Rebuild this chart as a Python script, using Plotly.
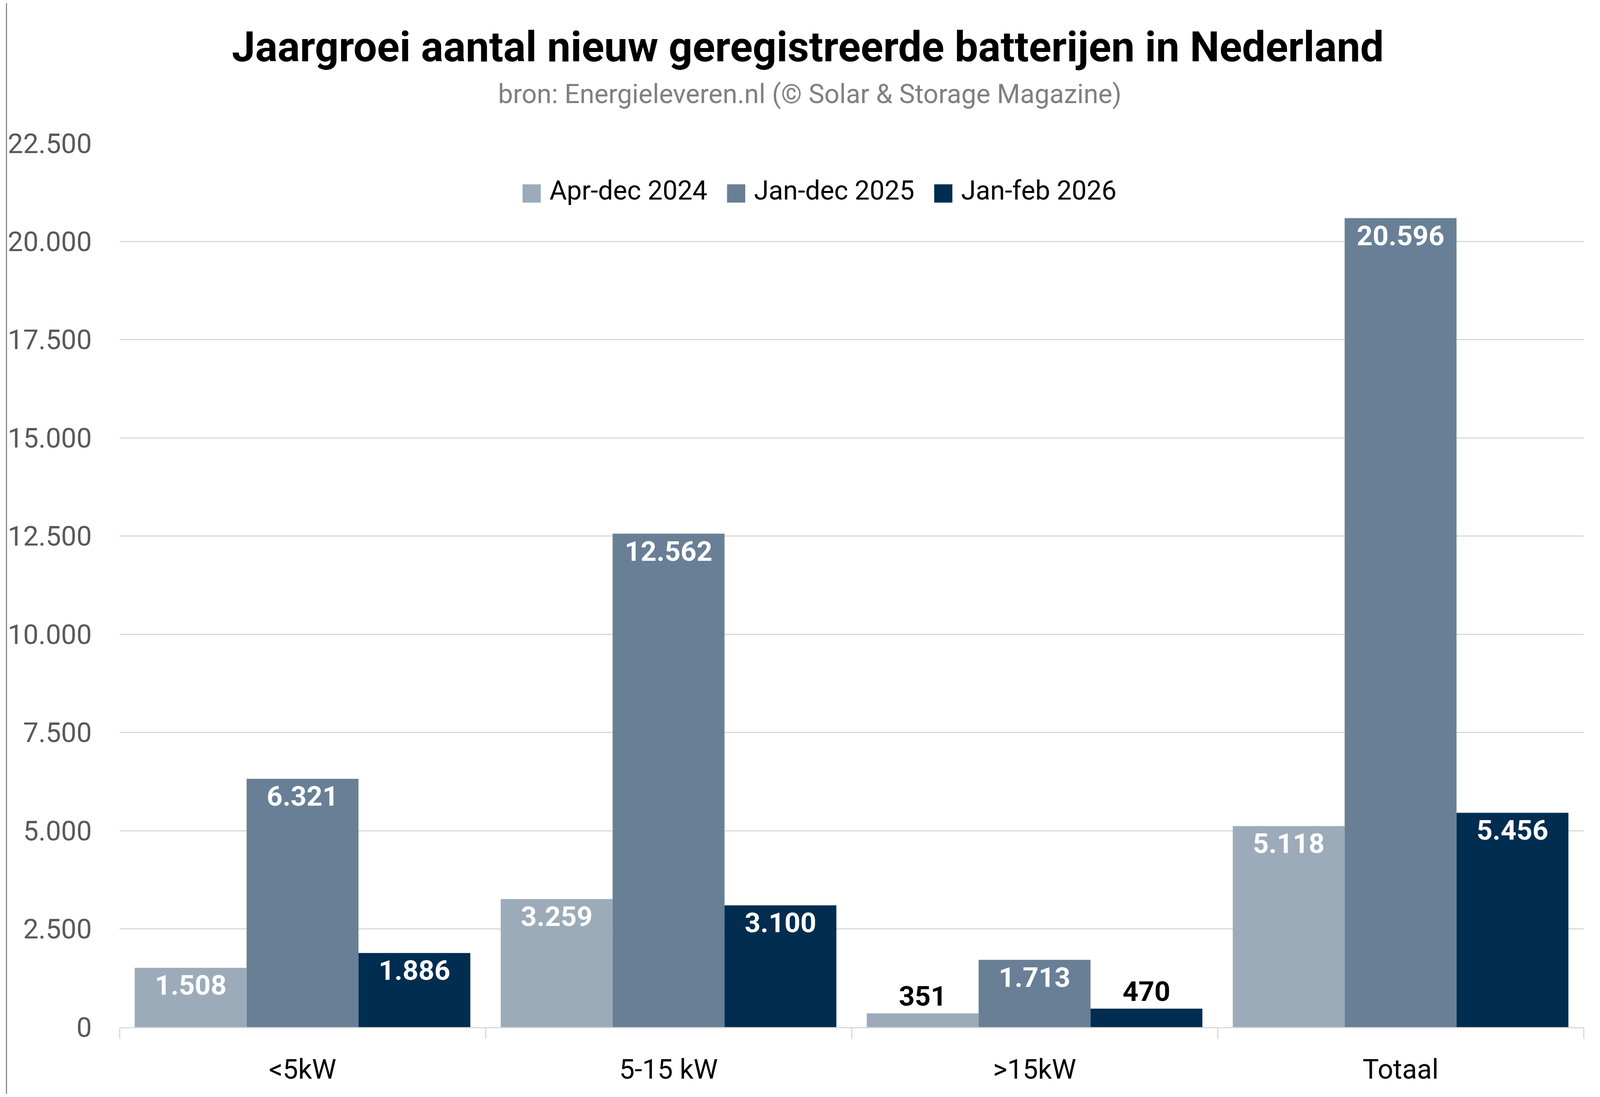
import plotly.graph_objects as go

# ---------------- data ----------------
categories = ["<5kW", "5-15 kW", ">15kW", "Totaal"]
series_names = ["Apr-dec 2024", "Jan-dec 2025", "Jan-feb 2026"]
apr_dec_2024 = [1508, 3259, 351, 5118]
jan_dec_2025 = [6321, 12562, 1713, 20596]
jan_feb_2026 = [1886, 3100, 470, 5456]
y_tick_values = [0, 2500, 5000, 7500, 10000, 12500, 15000, 17500, 20000, 22500]

title_text = "Jaargroei aantal nieuw geregistreerde batterijen in Nederland"
subtitle_text = "bron: Energieleveren.nl (© Solar & Storage Magazine)"

# ---------------- style / layout ----------------
colors = ["#9BABB9", "#687F96", "#002D50"]
W, H = 4080, 2793
ML, MR, MT, MB = 291, 34, 359, 171
PW, PH = W - ML - MR, H - MT - MB
FONT = "Roboto"
GRID = "#D9D9D9"
FS = 0.85  # font scale


def px_to_paper_x(px):
    return (px - ML) / PW


def px_to_paper_y(py):
    return (H - MB - py) / PH


fig = go.Figure()

for name, vals, col in zip(series_names, [apr_dec_2024, jan_dec_2025, jan_feb_2026], colors):
    small = [v < 1000 for v in vals]
    fig.add_trace(go.Bar(
        x=categories,
        y=vals,
        name=name,
        marker=dict(color=col, line=dict(width=0)),
        texttemplate="%{y:,.0f}",
        textposition=["outside" if s else "inside" for s in small],
        insidetextanchor="end",
        textfont=dict(family=FONT, size=round(84 * FS), weight="bold",
                      color=["#000000" if s else "#FFFFFF" for s in small]),
        cliponaxis=False,
        showlegend=False,
        hoverinfo="x+y+name",
    ))

# legend entries (square glyph + label)
for name, col in zip(series_names, colors):
    fig.add_trace(go.Scatter(
        x=[None], y=[None], mode="markers",
        marker=dict(color="rgba(0,0,0,0)", size=1),
        name=(f'<span style="color:{col};font-family:DejaVu Sans;'
              f'font-size:{round(72 * FS)}px">■</span> {name}'),
        showlegend=True, hoverinfo="skip",
    ))

fig.update_layout(
    width=W, height=H,
    margin=dict(l=ML, r=MR, t=MT, b=MB, pad=0),
    paper_bgcolor="white", plot_bgcolor="white",
    separators=",.",
    barmode="group",
    bargap=0.083, bargroupgap=0,
    uniformtext=dict(minsize=round(84 * FS), mode="show"),
    font=dict(family=FONT, size=round(82 * FS), color="#000000"),
    title=dict(
        text=f"<b>{title_text}</b>",
        font=dict(family=FONT, size=round(126 * FS), color="#000000"),
        xref="container", x=2060 / W, xanchor="center",
        yref="container", y=1 - 112 / H, yanchor="middle",
    ),
    legend=dict(
        orientation="h",
        x=px_to_paper_x(2066), xanchor="center",
        y=px_to_paper_y(477), yanchor="middle",
        font=dict(family=FONT, size=round(80 * FS), color="#000000"),
        bgcolor="rgba(0,0,0,0)",
        itemwidth=30,
        traceorder="normal",
    ),
    xaxis=dict(
        type="category",
        categoryorder="array", categoryarray=categories,
        showgrid=False,
        showline=True, linecolor=GRID, linewidth=3,
        ticks="outside", tickson="boundaries", ticklen=27,
        tickcolor=GRID, tickwidth=3,
        tickfont=dict(family=FONT, size=round(82 * FS), color="#000000"),
        ticklabelstandoff=45,
        zeroline=False,
    ),
    yaxis=dict(
        range=[0, 22500],
        tickmode="array", tickvals=y_tick_values,
        tickformat=",d",
        showgrid=True, gridcolor=GRID, gridwidth=3,
        showline=False, zeroline=False, ticks="",
        tickfont=dict(family=FONT, size=round(82 * FS), color="#595959"),
        ticklabelstandoff=70,
    ),
    annotations=[
        dict(
            text=subtitle_text,
            xref="paper", yref="paper",
            x=px_to_paper_x(2061), y=px_to_paper_y(233),
            xanchor="center", yanchor="middle",
            showarrow=False,
            font=dict(family=FONT, size=round(80 * FS), color="#808080"),
        )
    ],
    shapes=[
        dict(
            type="line", xref="paper", yref="paper",
            x0=px_to_paper_x(1), x1=px_to_paper_x(1),
            y0=px_to_paper_y(H), y1=px_to_paper_y(0),
            line=dict(color="#8C8C8C", width=3),
        )
    ],
)

fig.write_html("out.html")
